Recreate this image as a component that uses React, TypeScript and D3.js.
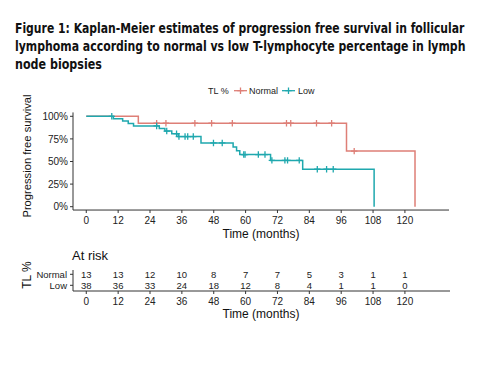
import React, { useLayoutEffect, useRef, useState } from 'react';
import * as d3 from 'd3';

const titleLines = [
  'Figure 1: Kaplan-Meier estimates of progression free survival in follicular',
  'lymphoma according to normal vs low T-lymphocyte percentage in lymph',
  'node biopsies',
];
const titleWidths = [450, 451, 87];

// survival curve steps: [month, survival]
const normalSteps: [number, number][] = [
  [0, 1], [19.6, 0.923], [98, 0.615], [123.8, 0],
];
const normalCensored = [26.5, 30, 40.9, 47.2, 55, 75.4, 77, 86.7, 92.4, 100.9];

const lowSteps: [number, number][] = [
  [0, 1], [10.2, 0.974], [13.7, 0.947], [15.8, 0.92], [17.8, 0.893],
  [27.5, 0.865], [29.6, 0.837], [32.2, 0.808], [34.6, 0.776], [43.2, 0.705],
  [55.3, 0.66], [56.6, 0.619], [57.8, 0.577], [69.4, 0.512], [81.5, 0.415],
  [108.4, 0],
];
const lowCensored = [
  9.6, 26.5, 30.3, 34, 34.9, 37.2, 38.2, 40.3, 47.9, 51.2, 59.3, 59.8,
  64.8, 67.3, 69.9, 74.8, 75.8, 80.2, 87, 90.5, 93,
];

const timeTicks = [0, 12, 24, 36, 48, 60, 72, 84, 96, 108, 120];
const survTicks = [0, 0.25, 0.5, 0.75, 1];
const normalAtRisk = [13, 13, 12, 10, 8, 7, 7, 5, 3, 1, 1];
const lowAtRisk = [38, 36, 33, 24, 18, 12, 8, 4, 1, 1, 0];

const groups = [
  { name: 'Normal', color: '#DE7F77', steps: normalSteps, censored: normalCensored, atRisk: normalAtRisk },
  { name: 'Low', color: '#1FA8AE', steps: lowSteps, censored: lowCensored, atRisk: lowAtRisk },
];

const font = "'Liberation Sans', Arial, sans-serif";
const ink = '#222';

const Title = () => {
  const refs = useRef<(SVGTextElement | null)[]>([]);
  const [scales, setScales] = useState([1, 1, 1]);

  useLayoutEffect(() => {
    const s = refs.current.map((el, i) => {
      const w = el ? el.getComputedTextLength() : 0;
      return w > 0 ? titleWidths[i] / w : 1;
    });
    setScales(s);
  }, []);

  return (
    <g>
      {titleLines.map((t, i) => (
        <g key={i} transform={`translate(15,${33 + i * 18}) scale(${scales[i]},1)`}>
          <text
            ref={el => { refs.current[i] = el; }}
            x={0}
            y={0}
            fontSize={14.5}
            fontWeight='bold'
            fill='#111'
            fontFamily="'DejaVu Sans Condensed', 'Liberation Sans', sans-serif"
          >
            {t}
          </text>
        </g>
      ))}
    </g>
  );
};

const App = () => {
  const width = 500;
  const height = 389;

  const x = d3.scaleLinear().domain([-5, 136.6]).range([73, 449]);
  const y = d3.scaleLinear().domain([0, 1]).range([206.7, 116.3]);
  const plotBottom = y(-0.037);
  const plotTop = y(1.043);

  const line = d3
    .line<[number, number]>()
    .x(d => x(d[0]))
    .y(d => y(d[1]))
    .curve(d3.curveStepAfter);

  const levelAt = (steps: [number, number][], t: number) => {
    const i = d3.bisector((d: [number, number]) => d[0]).right(steps, t) - 1;
    return steps[Math.max(0, i)][1];
  };

  const rowY = d3.scalePoint<string>().domain(['Normal', 'Low']).range([274.3, 285.3]);
  const tableBottom = 291;

  const cross = (cx: number, cy: number, color: string, key: string) => (
    <path key={key} d={`M${cx - 3.2},${cy}H${cx + 3.2}M${cx},${cy - 3.2}V${cy + 3.2}`} stroke={color} strokeWidth={1.3} />
  );

  return (
    <svg width={width} height={height} style={{ position: 'absolute', left: 0, top: 0 }} fontFamily={font}>
      <rect width={width} height={height} fill='#fff' />
      <Title />

      {/* legend */}
      <g fontSize={9} fill={ink}>
        <text x={208} y={94}>TL %</text>
        <line x1={234} x2={247} y1={90.7} y2={90.7} stroke={groups[0].color} strokeWidth={1.3} />
        {cross(240.5, 90.7, groups[0].color, 'ln')}
        <text x={249} y={94}>Normal</text>
        <line x1={282} x2={295} y1={90.7} y2={90.7} stroke={groups[1].color} strokeWidth={1.3} />
        {cross(288.5, 90.7, groups[1].color, 'll')}
        <text x={298} y={94}>Low</text>
      </g>

      {/* curves */}
      {groups.map(g => (
        <g key={g.name}>
          <path d={line(g.steps) ?? ''} fill='none' stroke={g.color} strokeWidth={1.5} />
          {g.censored.map((t, i) => cross(x(t), y(levelAt(g.steps, t)), g.color, `${g.name}-${i}`))}
        </g>
      ))}

      {/* main axes */}
      <g stroke='#333' strokeWidth={1}>
        <line x1={73} x2={73} y1={plotTop} y2={plotBottom} />
        <line x1={73} x2={449} y1={plotBottom} y2={plotBottom} />
        {timeTicks.map(t => (
          <line key={t} x1={x(t)} x2={x(t)} y1={plotBottom} y2={plotBottom + 3} />
        ))}
        {survTicks.map(s => (
          <line key={s} x1={70} x2={73} y1={y(s)} y2={y(s)} />
        ))}
      </g>
      <g fontSize={10} fill={ink}>
        {timeTicks.map(t => (
          <text key={t} x={x(t)} y={223.5} textAnchor='middle'>{t}</text>
        ))}
        {survTicks.map(s => (
          <text key={s} x={68} y={y(s) + 3.6} textAnchor='end'>{d3.format('.0%')(s)}</text>
        ))}
      </g>
      <text x={261} y={237.5} textAnchor='middle' fontSize={12} fill='#111'>Time (months)</text>
      <text transform='translate(31,156) rotate(-90)' textAnchor='middle' fontSize={11.2} fill='#111'>
        Progression free survival
      </text>

      {/* risk table */}
      <text x={72} y={260} fontSize={13} fill='#111'>At risk</text>
      <g stroke='#333'>
        <line x1={73} x2={73} y1={270} y2={tableBottom} />
        <line x1={73} x2={450} y1={tableBottom} y2={tableBottom} />
        {groups.map(g => (
          <line key={g.name} x1={70} x2={73} y1={rowY(g.name)} y2={rowY(g.name)} />
        ))}
        {timeTicks.map(t => (
          <line key={t} x1={x(t)} x2={x(t)} y1={tableBottom} y2={tableBottom + 3} />
        ))}
      </g>
      <g fontSize={9.5} fill={ink}>
        {groups.map(g => (
          <text key={g.name} x={67} y={(rowY(g.name) ?? 0) + 3.4} textAnchor='end'>{g.name}</text>
        ))}
        {groups.map(g =>
          g.atRisk.map((n, i) => (
            <text key={`${g.name}-${i}`} x={x(timeTicks[i])} y={(rowY(g.name) ?? 0) + 3.4} textAnchor='middle'>
              {n}
            </text>
          ))
        )}
      </g>
      <g fontSize={10} fill={ink}>
        {timeTicks.map(t => (
          <text key={t} x={x(t)} y={305.3} textAnchor='middle'>{t}</text>
        ))}
      </g>
      <text x={261} y={318.2} textAnchor='middle' fontSize={12} fill='#111'>Time (months)</text>
      <text transform='translate(31,275) rotate(-90)' textAnchor='middle' fontSize={12} fill='#111'>TL %</text>
    </svg>
  );
};

export default App;
